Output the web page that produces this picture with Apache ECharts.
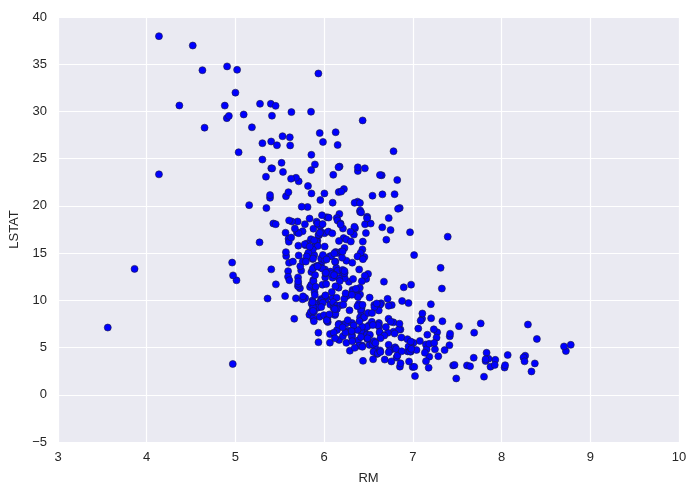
<!DOCTYPE html>
<html>
<head>
<meta charset="utf-8">
<script src="https://cdn.jsdelivr.net/npm/echarts@6/dist/echarts.min.js"></script>
<style>html,body{margin:0;padding:0;background:#fff}#c{width:694px;height:497px}</style>
</head>
<body>
<div id="c"></div>
<script>
// [RM, LSTAT] pairs
const points = [
[6.575,4.98],[6.421,9.14],[7.185,4.03],[6.998,2.94],[7.147,5.33],[6.43,5.21],[6.012,12.43],[6.172,19.15],[5.631,29.93],[6.004,17.1],
[6.377,20.45],[6.009,13.27],[5.889,15.71],[5.949,8.26],[6.096,10.26],[5.834,8.47],[5.935,6.58],[5.99,14.67],[5.456,11.69],[5.727,11.28],
[5.57,21.02],[5.965,13.83],[6.142,18.72],[5.813,19.88],[5.924,16.3],[5.599,16.51],[5.813,14.81],[6.047,17.28],[6.495,12.8],[6.674,11.98],
[5.713,22.6],[6.072,13.04],[5.95,27.71],[5.701,18.35],[6.096,20.34],[5.933,9.68],[5.841,11.41],[5.85,8.77],[5.966,10.13],[6.595,4.32],
[7.024,1.98],[6.77,4.84],[6.169,5.81],[6.211,7.44],[6.069,9.55],[5.682,10.21],[5.786,14.15],[6.03,18.8],[5.399,30.81],[5.602,16.2],
[5.963,13.45],[6.115,9.43],[6.511,5.28],[5.998,8.43],[5.888,14.8],[7.249,4.81],[6.383,5.77],[6.816,3.95],[6.145,6.86],[5.927,9.22],
[5.741,13.15],[5.966,14.44],[6.456,6.73],[6.762,9.5],[7.104,8.05],[6.29,4.67],[5.787,10.24],[5.878,8.1],[5.594,13.09],[5.885,8.79],
[6.417,6.72],[5.961,9.88],[6.065,5.52],[6.245,7.54],[6.273,6.78],[6.286,8.94],[6.279,11.97],[6.14,10.27],[6.232,12.34],[5.874,9.1],
[6.727,5.29],[6.619,7.22],[6.302,6.72],[6.167,7.51],[6.389,9.62],[6.63,6.53],[6.015,12.86],[6.121,8.44],[7.007,5.5],[7.079,5.7],
[6.417,8.81],[6.405,8.2],[6.442,8.16],[6.211,6.21],[6.249,10.59],[6.625,6.65],[6.163,11.34],[8.069,4.21],[7.82,3.57],[7.416,6.19],
[6.727,9.42],[6.781,7.67],[6.405,10.63],[6.137,13.44],[6.167,12.33],[5.851,16.47],[5.836,18.66],[6.127,14.09],[6.474,12.27],[6.229,15.55],
[6.195,13.0],[6.715,10.16],[5.913,16.21],[6.092,17.09],[6.254,10.45],[5.928,15.76],[6.176,12.04],[6.021,10.3],[5.872,15.37],[5.731,13.61],
[5.87,14.37],[6.004,14.27],[5.961,17.93],[5.856,25.41],[5.879,17.58],[5.986,14.81],[5.613,27.26],[5.693,17.19],[6.431,15.39],[5.637,18.34],
[6.458,12.6],[6.326,12.26],[6.372,11.12],[5.822,15.03],[5.757,17.31],[6.335,16.96],[5.942,16.9],[6.454,14.59],[5.857,21.32],[6.151,18.46],
[6.174,24.16],[5.019,34.41],[5.403,26.82],[5.468,26.42],[4.903,29.29],[6.13,27.8],[5.628,16.65],[4.926,29.53],[5.186,28.32],[5.597,21.45],
[6.122,14.1],[5.404,13.28],[5.012,12.12],[5.709,15.79],[6.129,15.12],[6.152,15.02],[5.272,16.14],[6.943,4.59],[6.066,6.43],[6.51,7.39],
[6.25,5.5],[7.489,1.73],[7.802,1.92],[8.375,3.32],[5.854,11.64],[6.101,9.81],[7.929,3.7],[5.877,12.14],[6.319,11.1],[6.402,11.32],
[5.875,14.43],[5.88,12.03],[5.572,14.69],[6.416,9.04],[5.859,9.64],[6.546,5.33],[6.02,10.11],[6.315,6.29],[6.86,6.92],[6.98,5.04],
[7.765,7.56],[6.144,9.45],[7.155,4.82],[6.563,5.68],[5.604,13.98],[6.153,13.15],[7.831,4.45],[6.782,6.68],[6.556,4.56],[7.185,5.39],
[6.951,5.1],[6.739,4.69],[7.178,2.87],[6.8,5.03],[6.604,4.38],[7.875,2.97],[7.287,4.08],[7.107,8.61],[7.274,6.62],[6.975,4.56],
[7.135,4.45],[6.162,7.43],[7.61,3.11],[7.853,3.81],[8.034,2.88],[5.891,10.87],[6.326,10.97],[5.783,18.06],[6.064,14.66],[5.344,23.09],
[5.96,17.27],[5.404,23.98],[5.807,16.03],[6.375,9.38],[5.412,29.55],[6.182,9.47],[5.888,13.51],[6.642,9.69],[5.951,17.92],[6.373,10.5],
[6.951,9.71],[6.164,21.46],[6.879,9.93],[6.618,7.6],[8.266,4.14],[8.725,4.63],[8.04,3.13],[7.163,6.36],[7.686,3.92],[6.552,3.76],
[5.981,11.65],[7.412,5.25],[8.337,2.47],[8.247,3.95],[6.726,8.05],[6.086,10.88],[6.631,9.54],[7.358,4.73],[6.481,6.36],[6.606,7.37],
[6.897,11.38],[6.095,12.4],[6.358,11.22],[6.393,5.19],[5.593,12.5],[5.605,18.46],[6.108,9.16],[6.226,10.15],[6.433,9.52],[6.718,6.56],
[6.487,5.9],[6.438,3.59],[6.957,3.53],[8.259,3.54],[6.108,6.57],[5.876,9.25],[7.454,3.11],[8.704,5.12],[7.333,7.79],[6.842,6.9],
[7.203,9.59],[7.52,7.26],[8.398,5.91],[7.327,11.25],[7.206,8.1],[5.56,10.45],[7.014,14.79],[8.297,7.44],[7.47,3.16],[5.92,13.65],
[5.856,13.0],[6.24,6.59],[6.538,7.73],[7.691,6.58],[6.758,3.53],[6.854,2.98],[7.267,6.05],[6.826,4.16],[6.482,7.19],[6.812,4.85],
[7.82,3.76],[6.968,4.59],[7.645,3.01],[7.923,3.16],[7.088,7.85],[6.453,8.23],[6.23,12.93],[6.209,7.14],[6.315,7.6],[6.565,9.51],
[6.861,3.33],[7.148,3.56],[6.63,4.7],[6.127,8.58],[6.009,10.4],[6.678,6.27],[6.549,7.39],[5.79,15.84],[6.345,4.97],[7.041,4.74],
[6.871,6.07],[6.59,9.5],[6.495,8.67],[6.982,4.86],[7.236,6.93],[6.616,8.93],[7.42,6.47],[6.849,7.53],[6.635,4.54],[5.972,9.97],
[4.973,12.64],[6.122,5.98],[6.023,11.72],[6.266,7.9],[6.567,9.28],[5.705,11.5],[5.914,18.33],[5.782,15.94],[6.382,10.36],[6.113,12.73],
[6.426,7.2],[6.376,6.87],[6.041,7.7],[5.708,11.74],[6.415,6.12],[6.431,5.08],[6.312,6.15],[6.083,12.79],[5.868,9.97],[6.333,7.34],
[6.144,9.09],[5.706,12.43],[6.031,7.83],[6.316,5.68],[6.31,6.75],[6.037,8.01],[5.869,9.8],[5.895,10.56],[6.059,8.51],[5.985,9.74],
[5.968,9.29],[7.241,5.49],[6.54,8.65],[6.696,7.18],[6.874,4.61],[6.014,10.53],[5.898,12.67],[6.516,6.36],[6.635,5.99],[6.939,5.89],
[6.49,5.98],[6.579,5.49],[5.884,7.79],[6.728,4.5],[5.663,8.05],[5.936,5.57],[6.212,17.6],[6.395,13.27],[6.127,11.48],[6.112,12.67],
[6.398,7.79],[6.251,14.19],[5.362,10.19],[5.803,14.64],[8.78,5.29],[3.561,7.12],[4.963,14.0],[3.863,13.33],[4.97,3.26],[6.683,3.73],
[7.016,2.96],[6.216,9.53],[5.875,8.88],[4.906,34.77],[4.138,37.97],[7.313,13.44],[6.649,23.24],[6.794,21.24],[6.38,23.69],[6.223,21.78],
[6.968,17.21],[6.545,21.08],[5.536,23.6],[5.52,24.56],[4.368,30.63],[5.277,30.81],[4.652,28.28],[5.0,31.99],[4.88,30.62],[5.39,20.85],
[5.713,17.11],[6.051,18.76],[5.036,25.68],[6.193,15.17],[5.887,16.35],[6.471,17.12],[6.405,19.37],[5.747,19.92],[5.453,30.59],[5.852,29.97],
[5.987,26.77],[6.343,20.32],[6.404,20.31],[5.349,19.77],[5.531,27.38],[5.683,22.98],[4.138,23.34],[5.608,12.13],[5.617,26.4],[6.852,19.78],
[5.757,10.11],[6.657,21.22],[4.628,34.37],[5.155,20.08],[4.519,36.98],[6.434,29.05],[6.782,25.79],[5.304,26.64],[5.957,20.62],[6.824,22.74],
[6.411,15.02],[6.006,15.7],[5.648,14.1],[6.103,23.29],[5.565,17.16],[5.896,24.39],[5.837,15.69],[6.202,14.52],[6.193,21.52],[6.38,24.08],
[6.348,17.64],[6.833,19.69],[6.425,12.03],[6.436,16.22],[6.208,15.17],[6.629,23.27],[6.461,18.05],[6.152,26.45],[5.935,34.02],[5.627,22.88],
[5.818,22.11],[6.406,19.52],[6.219,16.59],[6.485,18.85],[5.854,23.79],[6.459,23.98],[6.341,17.79],[6.251,16.44],[6.185,18.13],[6.417,19.31],
[6.749,17.44],[6.655,17.73],[6.297,17.27],[7.393,16.74],[6.728,18.71],[6.525,18.13],[5.976,19.01],[5.936,16.94],[6.301,16.23],[6.081,14.7],
[6.701,16.42],[6.376,14.65],[6.317,13.99],[6.513,10.29],[6.209,13.22],[5.759,14.13],[5.952,17.15],[6.003,21.32],[5.926,18.13],[5.713,14.76],
[6.167,16.29],[6.229,12.87],[6.437,14.36],[6.98,11.66],[5.427,18.14],[6.162,24.1],[6.484,18.68],[5.304,24.91],[6.185,18.03],[6.229,13.11],
[6.242,10.74],[6.75,7.74],[7.061,7.01],[5.762,10.42],[5.871,13.34],[6.312,10.58],[6.114,14.98],[5.905,11.45],[5.454,18.06],[5.414,23.97],
[5.093,29.68],[5.983,18.07],[5.983,13.35],[5.707,12.01],[5.926,13.59],[5.67,17.6],[5.39,21.14],[5.794,14.1],[6.019,12.92],[5.569,15.1],
[6.027,14.33],[6.593,9.67],[6.12,9.08],[6.976,5.64],[6.794,6.48],[6.03,7.88]
];
const xTicks = [3, 4, 5, 6, 7, 8, 9, 10];
const yTicks = [-5, 0, 5, 10, 15, 20, 25, 30, 35, 40];
const xName = 'RM';
const yName = 'LSTAT';

const chart = echarts.init(document.getElementById('c'), null, {renderer: 'canvas'});
const textColor = '#262626';
const font = 'Liberation Sans, Arial, sans-serif';
const fmt = v => (v < 0 ? '\u2212' + Math.abs(v) : String(v));
chart.setOption({
  animation: false,
  backgroundColor: '#ffffff',
  grid: {left: 58, right: 15, top: 17, bottom: 55, show: true, backgroundColor: '#EAEAF2', borderWidth: 0},
  xAxis: {
    type: 'value', min: xTicks[0], max: xTicks[xTicks.length - 1], interval: 1,
    name: xName, nameLocation: 'middle', nameGap: 30,
    nameTextStyle: {color: textColor, fontSize: 13, fontFamily: font},
    axisLine: {show: false}, axisTick: {show: false},
    axisLabel: {color: textColor, fontSize: 13, margin: 9, fontFamily: font, formatter: fmt},
    splitLine: {show: true, lineStyle: {color: '#ffffff', width: 1.2}}
  },
  yAxis: {
    type: 'value', min: yTicks[0], max: yTicks[yTicks.length - 1], interval: 5,
    name: yName, nameLocation: 'middle', nameGap: 35, nameRotate: 90,
    nameTextStyle: {color: textColor, fontSize: 13, fontFamily: font},
    axisLine: {show: false}, axisTick: {show: false},
    axisLabel: {color: textColor, fontSize: 13, margin: 11, fontFamily: font, formatter: fmt},
    splitLine: {show: true, lineStyle: {color: '#ffffff', width: 1.2}}
  },
  series: [{
    type: 'scatter',
    data: points,
    symbol: 'circle',
    symbolSize: 7,
    itemStyle: {color: '#0000ff', borderColor: '#1a1a40', borderWidth: 0.6, opacity: 1}
  }]
});
</script>
</body>
</html>
